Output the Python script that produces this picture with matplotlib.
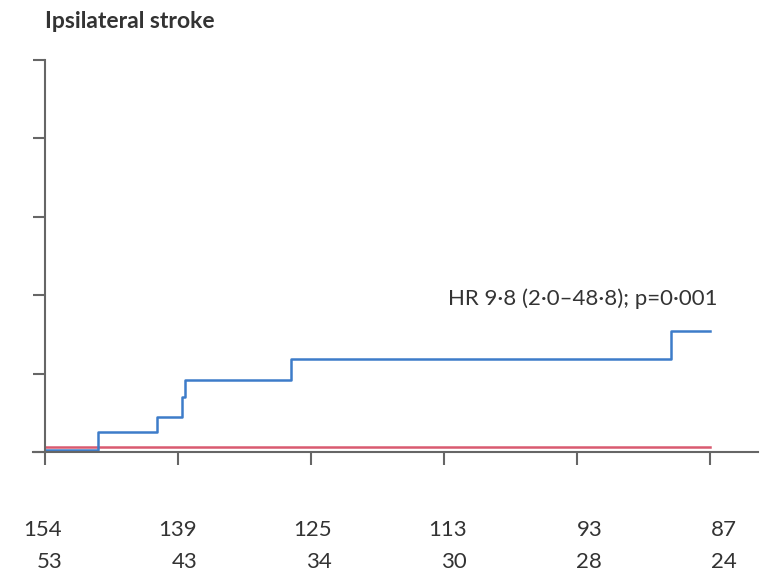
import matplotlib
matplotlib.use("Agg")
import matplotlib.pyplot as plt
import matplotlib.transforms as mtransforms

plt.rcParams['font.family'] = ['Lato', 'DejaVu Sans']

# step curves (years, cumulative %)
blue_x = [0, 0.40, 0.84, 1.03, 1.05, 1.85, 4.71, 5.0]
blue_y = [0.15, 1.3, 2.2, 3.5, 4.6, 5.9, 7.7, 7.7]
red_x = [0, 5.0]
red_y = [0.3, 0.3]

risk_times = [0, 1, 2, 3, 4, 5]
risk_row1 = [154, 139, 125, 113, 93, 87]
risk_row2 = [53, 43, 34, 30, 28, 24]

title = "Ipsilateral stroke"
hr_text = "HR 9\u00b78 (2\u00b70\u201348\u00b78); p=0\u00b7001"

fig = plt.figure(figsize=(7.7, 5.76), dpi=100)
ax = fig.add_axes([0.0429, 0.2153, 0.9413, 0.6806])

ax.step(red_x, red_y, where='post', color='#d95a70', lw=1.8, clip_on=False)
ax.step(blue_x, blue_y, where='post', color='#3d7cc9', lw=1.8, clip_on=False)

ax.set_xlim(-0.09, 5.36)
ax.set_ylim(0, 25)
ax.set_xticks(risk_times)
ax.set_yticks([0, 5, 10, 15, 20, 25])
ax.set_xticklabels([])
ax.set_yticklabels([])

for s in ['top', 'right']:
    ax.spines[s].set_visible(False)
ax.spines['left'].set_position(('data', 0))
for s in ['left', 'bottom']:
    ax.spines[s].set_color('#666666')
    ax.spines[s].set_linewidth(1.5)
ax.tick_params(axis='both', direction='out', length=9, width=1.5, color='#666666')

trans = mtransforms.blended_transform_factory(ax.transData, fig.transFigure)
ax.text(0, 1 - 21 / 576, title, transform=trans, fontsize=16.5, fontweight='bold',
        color='#333333', ha='left', va='center')
ax.text(5.06, 9.8, hr_text, fontsize=16, color='#333333', ha='right', va='center')

for i, t in enumerate(risk_times):
    ax.text(t + 0.13 + 0.015 * i, 1 - 530 / 576, str(risk_row1[i]), transform=trans,
            fontsize=16, color='#333333', ha='right', va='center')
    ax.text(t + 0.13 + 0.015 * i, 1 - 562 / 576, str(risk_row2[i]), transform=trans,
            fontsize=16, color='#333333', ha='right', va='center')

fig.savefig("out.png", dpi=100)
